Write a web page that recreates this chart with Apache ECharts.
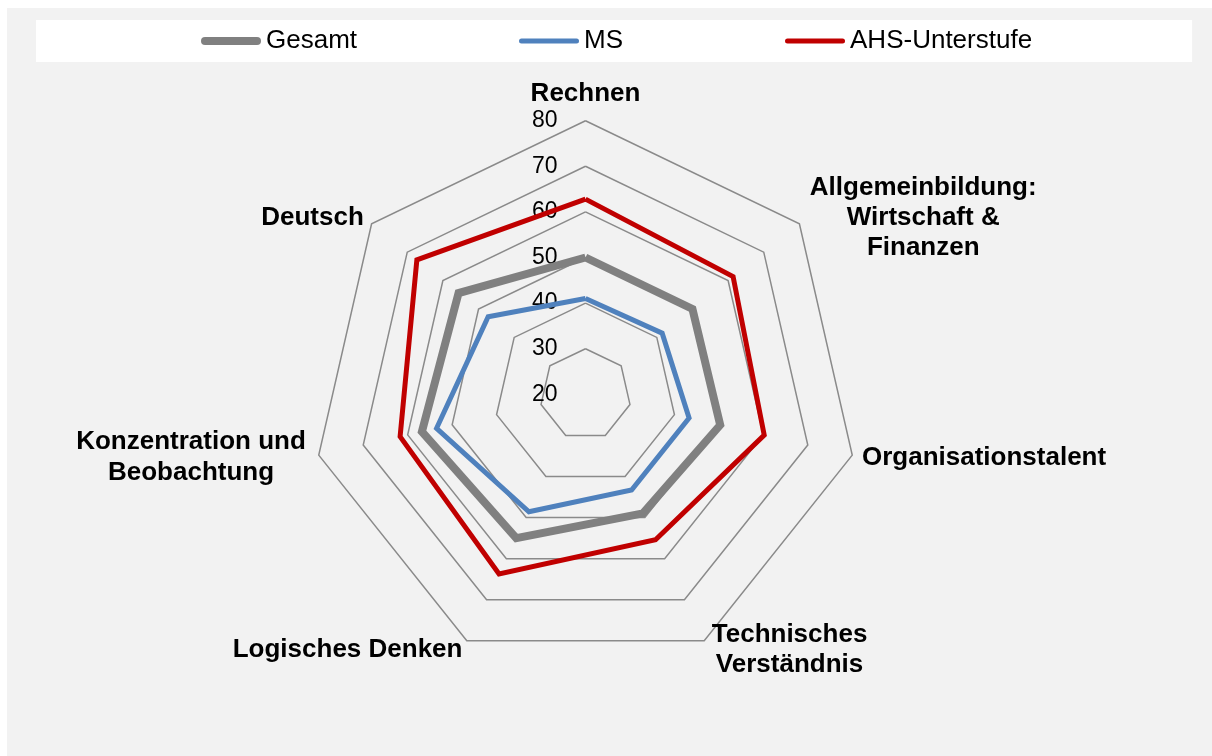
<!DOCTYPE html>
<html>
<head>
<meta charset="utf-8">
<script src="https://cdn.jsdelivr.net/npm/echarts@6/dist/echarts.min.js"></script>
<style>
    html,body{margin:0;padding:0;background:#fff;}
    #bg{position:absolute;left:7px;top:8px;right:0;bottom:0;width:1205px;height:748px;background:#f2f2f2;}
    #main{position:absolute;left:0;top:0;width:1212px;height:756px;}
</style>
</head>
<body>
<div id="bg"></div>
<div id="main"></div>
<script>
// Kategorien (im Uhrzeigersinn ab oben)
var categories = ['Rechnen', 'Allgemeinbildung:\nWirtschaft &\nFinanzen', 'Organisationstalent',
    'Technisches\nVerständnis', 'Logisches Denken', 'Konzentration und\nBeobachtung', 'Deutsch'];
var seriesNames = ['Gesamt', 'MS', 'AHS-Unterstufe'];
var gesamt = [50, 50, 50.3, 49, 55, 56.8, 55.6];
var ms = [41, 41.5, 43.3, 43.3, 48.6, 53.5, 47.3];
var ahs = [62.8, 61.4, 60.2, 55.4, 63.7, 61.7, 67.3];
var axisMin = 20, axisMax = 80, axisStep = 10;

// echarts radar laeuft gegen den Uhrzeigersinn -> Reihenfolge umdrehen (erstes bleibt oben)
function ccw(arr) {
    return [arr[0]].concat(arr.slice(1).reverse());
}

var chart = echarts.init(document.getElementById('main'));

var indicator = ccw(categories).map(function (name, i) {
    var ind = {name: name, min: axisMin, max: axisMax};
    if (i === 0) {
        ind.axisLabel = {show: true};
    }
    return ind;
});

var colors = ['#808080', '#4f81bd', '#c00000'];
var widths = [8, 5, 5];
var values = [gesamt, ms, ahs];

// Legenden-Icons: dicker Balken fuer Gesamt, duenner fuer die anderen
var thickIcon = 'path://M4,0L56,0A4,4,0,0,1,56,8L4,8A4,4,0,0,1,4,0Z';
var thinIcon = 'path://M0,0M60,8M2.5,1.5L57.5,1.5A2.5,2.5,0,0,1,57.5,6.5L2.5,6.5A2.5,2.5,0,0,1,2.5,1.5Z';

var option = {
    backgroundColor: 'transparent',
    color: colors,
    animation: false,
    legend: {
        data: seriesNames.map(function (n, i) {
            return {name: n, icon: i === 0 ? thickIcon : thinIcon};
        }),
        left: 36,
        top: 20,
        padding: [8, 160, 8, 165],
        backgroundColor: '#ffffff',
        itemGap: 162,
        itemWidth: 60,
        itemHeight: 8,
        textStyle: {fontFamily: 'Liberation Sans', fontSize: 26, color: '#000'}
    },
    radar: {
        center: [585.5, 394.3],
        radius: 273.6,
        shape: 'polygon',
        splitNumber: (axisMax - axisMin) / axisStep,
        startAngle: 90,
        nameGap: 10,
        axisName: {
            color: '#000',
            fontFamily: 'Liberation Sans',
            fontWeight: 'bold',
            fontSize: 26,
            lineHeight: 31,
            formatter: function (name) {
                if (name.indexOf('\n') < 0) return name;
                var w = name.indexOf('Allgemein') === 0 ? 232 : (name.indexOf('Technisch') === 0 ? 162 : 236);
                var key = w === 232 ? 'a' : (w === 162 ? 'b' : 'c');
                return name.split('\n').map(function (l) { return '{' + key + '|' + l + '}'; }).join('\n');
            },
            rich: {
                a: {width: 232, align: 'center', fontWeight: 'bold', fontSize: 26, lineHeight: 30, fontFamily: 'Liberation Sans', color: '#000'},
                b: {width: 162, align: 'center', fontWeight: 'bold', fontSize: 26, lineHeight: 30, fontFamily: 'Liberation Sans', color: '#000'},
                c: {width: 236, align: 'center', fontWeight: 'bold', fontSize: 26, lineHeight: 31, fontFamily: 'Liberation Sans', color: '#000'}
            }
        },
        axisLine: {show: false},
        axisTick: {show: false},
        axisLabel: {show: false, color: '#000', fontFamily: 'Liberation Sans', fontSize: 23, margin: 28},
        splitArea: {show: false},
        splitLine: {lineStyle: {color: '#8a8a8a', width: 1.5}},
        indicator: indicator
    },
    series: values.map(function (v, i) {
        return {
            name: seriesNames[i],
            type: 'radar',
            symbol: 'none',
            lineStyle: {width: widths[i], color: colors[i], join: 'miter'},
            itemStyle: {color: colors[i]},
            data: [{value: ccw(v), name: seriesNames[i]}]
        };
    })
};

chart.setOption(option);
</script>
</body>
</html>
